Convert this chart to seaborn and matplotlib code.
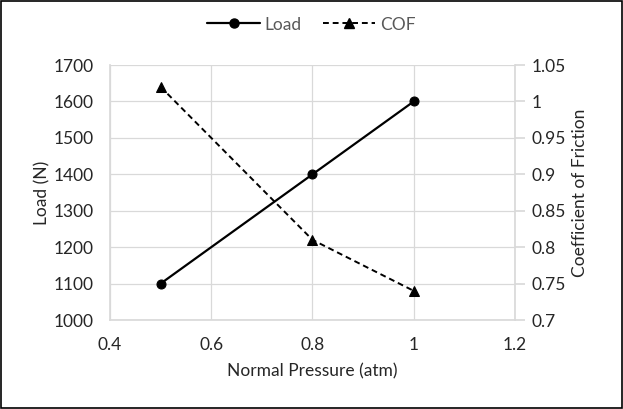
import matplotlib
matplotlib.use("Agg")
import matplotlib.pyplot as plt
import seaborn as sns
import pandas as pd
from matplotlib.lines import Line2D

pressure = [0.5, 0.8, 1.0]
load = [1100, 1400, 1600]
cof = [1.02, 0.81, 0.74]

sns.set_theme(style="white")
plt.rcParams['font.family'] = ['Lato', 'DejaVu Sans']

df = pd.DataFrame({"pressure": pressure, "load": load, "cof": cof})

fig = plt.figure(figsize=(6.23, 4.09), dpi=100)
ax = fig.add_axes([0.1766, 0.2176, 0.65, 0.6234])
ax2 = ax.twinx()

grid_col = "#d9d9d9"
txt_col = "#262626"

sns.lineplot(data=df, x="pressure", y="load", ax=ax, color="black", lw=1.6,
             marker="o", markersize=6.5, markeredgecolor="black", legend=False)
sns.lineplot(data=df, x="pressure", y="cof", ax=ax2, color="black", lw=1.4,
             linestyle=(0, (3, 2)), marker="^", markersize=6.5,
             markeredgecolor="black", legend=False)

ax.set_xlim(0.4, 1.2)
ax.set_ylim(1000, 1700)
ax2.set_ylim(0.7, 1.05)
ax.set_xticks([0.4, 0.6, 0.8, 1.0, 1.2])
ax.set_xticklabels(["0.4", "0.6", "0.8", "1", "1.2"])
ax.set_yticks(range(1000, 1701, 100))
ax2.set_yticks([0.7, 0.75, 0.8, 0.85, 0.9, 0.95, 1.0, 1.05])
ax2.set_yticklabels(["0.7", "0.75", "0.8", "0.85", "0.9", "0.95", "1", "1.05"])

ax.grid(True, color=grid_col, lw=0.9)
ax.set_axisbelow(True)
ax2.grid(False)

for a in (ax, ax2):
    for s in a.spines.values():
        s.set_visible(False)
ax.spines['left'].set_visible(True)
ax.spines['left'].set_color(grid_col)
ax.spines['bottom'].set_visible(True)
ax.spines['bottom'].set_color(grid_col)
ax2.spines['right'].set_visible(True)
ax2.spines['right'].set_color(grid_col)

fs = 12.5
ax.tick_params(axis='y', labelsize=fs, labelcolor=txt_col, length=0, pad=12)
ax.tick_params(axis='x', labelsize=fs, labelcolor=txt_col, length=0, pad=12)
ax2.tick_params(axis='y', labelsize=fs, labelcolor=txt_col, direction='out',
                length=7, color=grid_col, pad=5)

ax.set_xlabel("Normal Pressure (atm)", fontsize=fs, labelpad=8, color=txt_col)
ax.set_ylabel("Load (N)", fontsize=fs, labelpad=2, color=txt_col)
ax2.set_ylabel("Coefficient of Friction", fontsize=fs, labelpad=4, color=txt_col)

handles = [
    Line2D([], [], color="black", lw=1.6, marker="o", markersize=6.5),
    Line2D([], [], color="black", lw=1.4, linestyle=(0, (3, 2)), marker="^", markersize=6.5),
]
fig.legend(handles, ["Load", "COF"], loc="center", bbox_to_anchor=(0.5, 0.94),
           ncol=2, frameon=False, fontsize=fs, handlelength=3.0,
           columnspacing=1.2, handletextpad=0.3, labelcolor="#595959")

border = plt.Rectangle((0.002, 0.002), 0.996, 0.996, transform=fig.transFigure,
                       fill=False, edgecolor="black", lw=1.2)
fig.patches.append(border)

fig.savefig("out.png", dpi=100)
